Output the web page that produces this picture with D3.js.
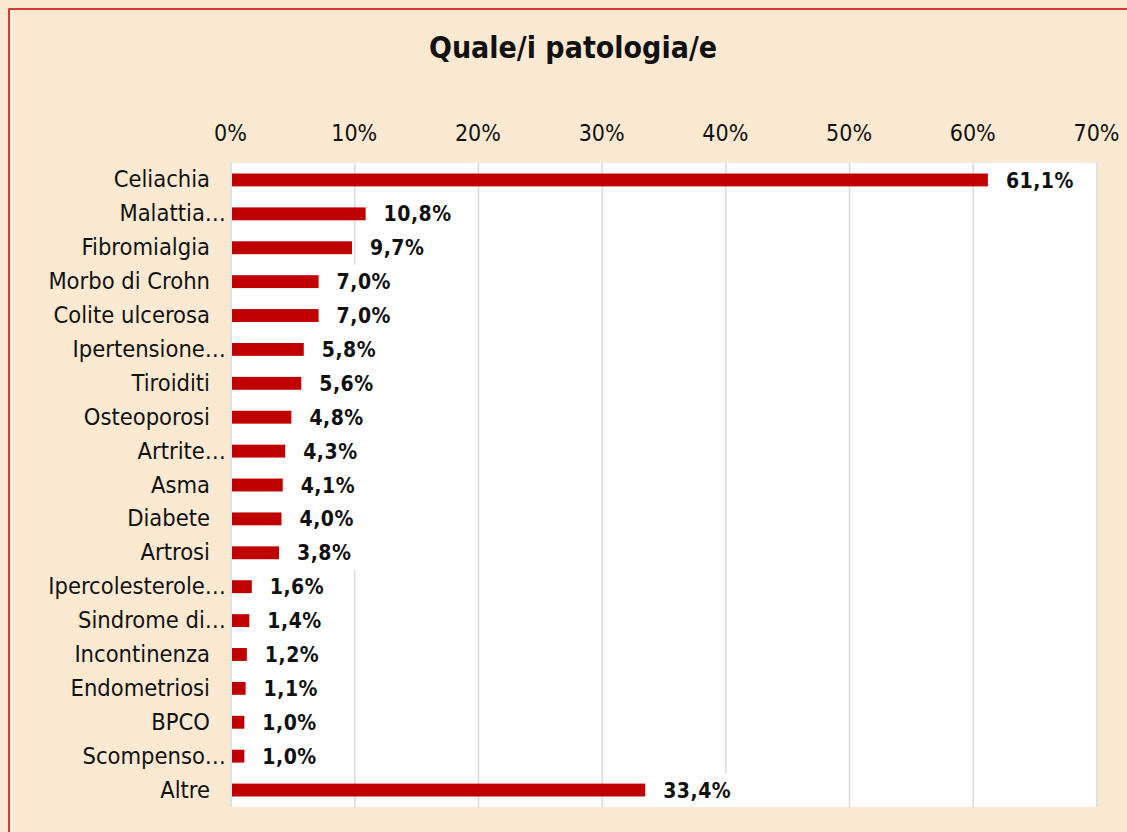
<!DOCTYPE html>
<html>
<head>
<meta charset="utf-8">
<script src="https://cdn.jsdelivr.net/npm/d3@7"></script>
<style>
  body { margin: 0; background: #fbe9d2; }
  svg text { font-family: "DejaVu Sans Condensed", "DejaVu Sans", sans-serif; fill: #111; }
</style>
</head>
<body>
<script>
// data
var categories = ["Celiachia", "Malattia…", "Fibromialgia", "Morbo di Crohn", "Colite ulcerosa",
  "Ipertensione…", "Tiroiditi", "Osteoporosi", "Artrite…", "Asma", "Diabete", "Artrosi",
  "Ipercolesterole…", "Sindrome di…", "Incontinenza", "Endometriosi", "BPCO", "Scompenso…", "Altre"];
var values = [61.1, 10.8, 9.7, 7.0, 7.0, 5.8, 5.6, 4.8, 4.3, 4.1, 4.0, 3.8, 1.6, 1.4, 1.2, 1.1, 1.0, 1.0, 33.4];
var tickValues = [0, 10, 20, 30, 40, 50, 60, 70];
var title = "Quale/i patologia/e";

var svgWidth = 1127;
var svgHeight = 832;
var fontFamily = "DejaVu Sans Condensed, DejaVu Sans, sans-serif";

// plot area
var plot = { left: 232, right: 1098, top: 163, bottom: 807 };

var svg = d3.select("body")
  .append("svg")
  .attr("width", svgWidth)
  .attr("height", svgHeight);

// chart frame (only left and top edges are visible)
svg.append("rect")
  .attr("x", 9).attr("y", 9)
  .attr("width", 1200).attr("height", 900)
  .attr("fill", "#fbe9d2")
  .attr("stroke", "#c00000")
  .attr("stroke-width", 1.5);

svg.append("rect")
  .attr("x", plot.left - 2).attr("y", plot.top)
  .attr("width", plot.right - plot.left + 2)
  .attr("height", plot.bottom - plot.top)
  .attr("fill", "#ffffff");

var x = d3.scaleLinear().domain([0, 70]).range([plot.left, plot.right]);
var y = d3.scaleBand().domain(categories).range([plot.top, plot.bottom]).paddingInner(0.62).paddingOuter(0.31);

// gridlines
svg.append("g")
  .selectAll("line")
  .data(tickValues)
  .enter()
  .append("line")
  .attr("x1", function(d) { return x(d) - 1; })
  .attr("x2", function(d) { return x(d) - 1; })
  .attr("y1", plot.top)
  .attr("y2", plot.bottom)
  .attr("stroke", "#d9d9d9")
  .attr("stroke-width", 1.5);

// top axis labels
var topAxis = d3.axisTop(x)
  .tickValues(tickValues)
  .tickSize(0)
  .tickPadding(0)
  .tickFormat(function(d) { return d + "%"; });

var axisG = svg.append("g")
  .attr("transform", "translate(-2, 141)")
  .call(topAxis);
axisG.select(".domain").remove();
axisG.selectAll("text")
  .attr("font-size", 23)
  .attr("font-family", fontFamily)
  .attr("fill", "#111");

// category labels
var leftAxis = d3.axisLeft(y).tickSize(0).tickPadding(0);
var catG = svg.append("g")
  .attr("transform", "translate(210, 0)")
  .call(leftAxis);
catG.select(".domain").remove();
catG.selectAll("text")
  .attr("font-size", 23.5)
  .attr("font-family", fontFamily)
  .attr("fill", "#111");

// truncated labels: the ellipsis hangs past the right edge
catG.selectAll("text")
  .filter(function(d) { return d.slice(-1) === "…"; })
  .attr("x", 16);

// bars
svg.append("g")
  .selectAll("rect")
  .data(values)
  .enter()
  .append("rect")
  .attr("x", x(0))
  .attr("y", function(d, i) { return y(categories[i]); })
  .attr("width", function(d) { return x(d) - x(0); })
  .attr("height", y.bandwidth())
  .attr("fill", "#c00000");

// value labels with white boxes
var fmt = function(d) { return d.toFixed(1).replace(".", ",") + "%"; };
var labels = svg.append("g")
  .selectAll("g")
  .data(values)
  .enter()
  .append("g")
  .attr("transform", function(d, i) {
    return "translate(" + (x(d) + 18) + "," + (y(categories[i]) + y.bandwidth() / 2) + ")";
  });

labels.append("text")
  .attr("dy", "0.36em")
  .attr("font-size", 21)
  .attr("font-weight", "bold")
  .attr("letter-spacing", 0.5)
  .text(fmt);

labels.each(function() {
  var g = d3.select(this);
  var bb = g.select("text").node().getBBox();
  g.insert("rect", "text")
    .attr("x", bb.x - 12)
    .attr("y", -17)
    .attr("width", bb.width + 20)
    .attr("height", 34)
    .attr("fill", "#ffffff");
});

// title
svg.append("text")
  .attr("x", 573)
  .attr("y", 58)
  .attr("text-anchor", "middle")
  .attr("font-size", 30)
  .attr("font-weight", "bold")
  .text(title);
</script>
</body>
</html>
